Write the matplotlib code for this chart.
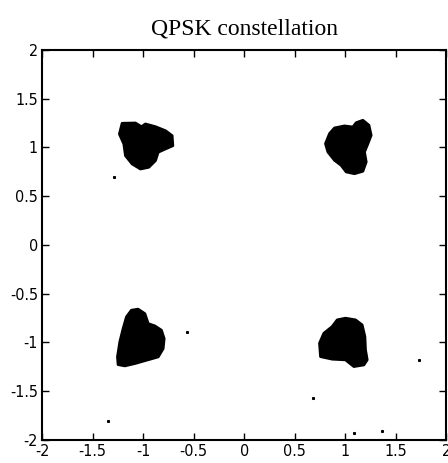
import matplotlib
matplotlib.use("Agg")
import matplotlib.pyplot as plt
from matplotlib.patches import Polygon

# cluster outlines (I, Q)
tl_i = [-1.208, -1.076, -1.017, -0.977, -0.878, -0.779, -0.713, -0.706, -0.779,
        -0.851, -0.878, -0.944, -1.027, -1.109, -1.175, -1.191, -1.235]
tl_q = [1.248, 1.251, 1.213, 1.241, 1.213, 1.172, 1.121, 1.018, 0.985,
        0.951, 0.865, 0.797, 0.779, 0.831, 0.916, 1.036, 1.138]

tr_i = [0.894, 0.993, 1.076, 1.109, 1.175, 1.235, 1.257, 1.225, 1.191,
        1.208, 1.175, 1.092, 1.010, 0.960, 0.894, 0.829, 0.805, 0.845]
tr_q = [1.200, 1.221, 1.210, 1.254, 1.279, 1.228, 1.125, 1.039, 0.954,
        0.851, 0.756, 0.731, 0.749, 0.817, 0.869, 0.954, 1.039, 1.142]

bl_i = [-1.116, -1.050, -0.983, -0.950, -0.884, -0.819, -0.792, -0.802, -0.851,
        -0.967, -1.082, -1.181, -1.248, -1.254, -1.231, -1.198, -1.165]
bl_q = [-0.670, -0.659, -0.705, -0.807, -0.831, -0.875, -0.961, -1.064, -1.149,
        -1.183, -1.217, -1.241, -1.228, -1.149, -0.995, -0.858, -0.738]

br_i = [0.871, 0.921, 1.003, 1.102, 1.168, 1.195, 1.201, 1.218, 1.185,
        1.086, 1.003, 0.871, 0.756, 0.746, 0.789]
br_q = [-0.838, -0.769, -0.752, -0.769, -0.821, -0.941, -1.077, -1.179, -1.231,
        -1.248, -1.179, -1.172, -1.146, -1.008, -0.906]

# a few stray samples
stray_i = [-1.287, -0.567, 0.683, -1.350, 1.089, 1.363, 1.726]
stray_q = [0.701, -0.892, -1.569, -1.802, -1.925, -1.905, -1.179]

ticks = [-2, -1.5, -1, -0.5, 0, 0.5, 1, 1.5, 2]
tick_labels = ["-2", "-1.5", "-1", "-0.5", "0", "0.5", "1", "1.5", "2"]

plt.rcParams['axes.unicode_minus'] = False

fig = plt.figure(figsize=(4.48, 4.63), dpi=100)
ax = fig.add_axes([0.094, 0.050, 0.902, 0.842])

for xs, ys in [(tl_i, tl_q), (tr_i, tr_q), (bl_i, bl_q), (br_i, br_q)]:
    ax.add_patch(Polygon(list(zip(xs, ys)), closed=True, facecolor="black",
                         edgecolor="black", linewidth=2, joinstyle="round"))

ax.plot(stray_i, stray_q, linestyle="none", marker="s", markersize=1.2, color="black")

ax.set_xlim(-2, 2)
ax.set_ylim(-2, 2)
ax.set_xticks(ticks)
ax.set_yticks(ticks)
tick_font = {"family": "DejaVu Sans", "stretch": "condensed", "size": 11.5}
ax.set_xticklabels(tick_labels, fontdict=tick_font)
ax.set_yticklabels(tick_labels, fontdict=tick_font)
ax.tick_params(direction="in", length=5, width=1, top=True, right=True, pad=3)
for sp in ax.spines.values():
    sp.set_linewidth(1.5)

ax.set_title("QPSK constellation", family="Liberation Serif", fontsize=17, pad=11)

fig.savefig("out.png", dpi=100)
